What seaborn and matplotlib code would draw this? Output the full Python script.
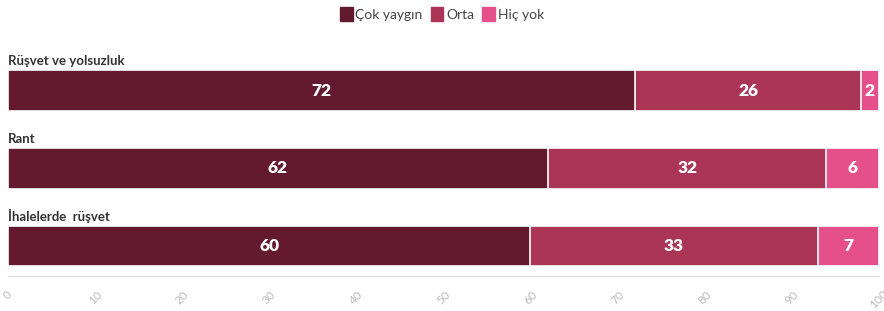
import matplotlib
matplotlib.use("Agg")
import matplotlib.pyplot as plt
import seaborn as sns
import pandas as pd
import numpy as np
from matplotlib.patches import Patch

# data
categories = ["Rüşvet ve yolsuzluk", "Rant", "İhalelerde  rüşvet"]
series_names = ["Çok yaygın", "Orta", "Hiç yok"]
cok_yaygin = [72, 62, 60]
orta = [26, 32, 33]
hic_yok = [2, 6, 7]
colors = ["#641a2e", "#aa3556", "#e6508a"]
xticks = [0, 10, 20, 30, 40, 50, 60, 70, 80, 90, 100]

sns.set_style("white")
plt.rcParams["font.family"] = ["Lato", "DejaVu Sans"]

values = np.array([cok_yaygin, orta, hic_yok])
cum = values.cumsum(axis=0)

fig = plt.figure(figsize=(8.84, 3.11), dpi=100)
ax = fig.add_axes([0.009, 0.1125, 0.985, 0.746])

# stacked bars: draw the cumulative totals from the back to the front
for k in reversed(range(len(series_names))):
    df = pd.DataFrame({"cat": categories, "val": cum[k]})
    sns.barplot(data=df, x="val", y="cat", orient="h", color=colors[k],
                width=0.525, edgecolor="white", linewidth=1.2,
                saturation=1, ax=ax)

# segment labels
for i in range(len(categories)):
    for k in range(len(series_names)):
        start = cum[k][i] - values[k][i]
        ax.text(start + values[k][i] / 2, i, str(values[k][i]),
                ha="center", va="center", color="white",
                fontsize=12.5, fontweight="heavy")
    ax.text(0, i - 0.3, categories[i], ha="left", va="bottom",
            fontsize=9.5, fontweight="bold", color="#333333")

ax.set_xlim(0, 100)
ax.set_ylim(2.385, -0.6)
ax.set_xlabel("")
ax.set_ylabel("")
ax.set_yticks([])
ax.set_xticks(xticks)
ax.set_xticklabels([str(t) for t in xticks], rotation=45, color="#bbbbbb",
                   fontsize=8.5, ha="center")
ax.tick_params(axis="x", length=6, color="#dddddd", width=0.8, pad=3)
for s in ["top", "right", "left"]:
    ax.spines[s].set_visible(False)
ax.spines["bottom"].set_color("#dddddd")
ax.spines["bottom"].set_linewidth(0.8)

handles = [Patch(facecolor=c, edgecolor=c) for c in colors]
fig.legend(handles, series_names, loc="center", bbox_to_anchor=(0.5, 0.955),
           ncol=3, frameon=False, fontsize=10, handlelength=0.9,
           handleheight=1.2, handletextpad=0.2, columnspacing=0.6,
           labelcolor="#444444")

fig.savefig("out.png", dpi=100)
